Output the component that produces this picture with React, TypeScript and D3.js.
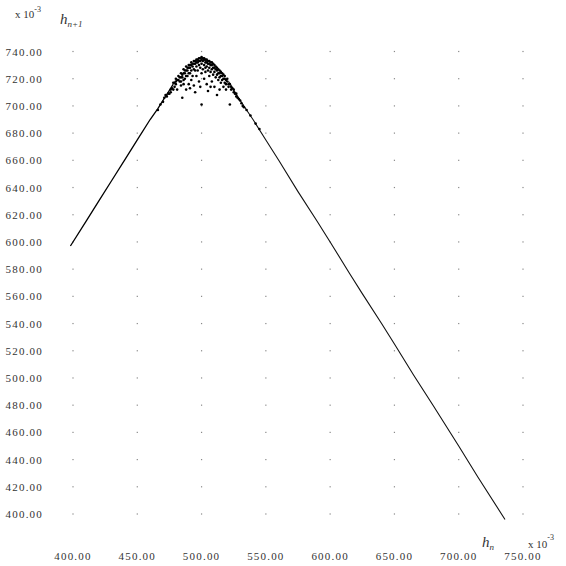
import React from 'react';
import * as d3 from 'd3';

// values are in units of 10^-3
const xTicks = [400, 450, 500, 550, 600, 650, 700, 750];
const yTicks = [400, 420, 440, 460, 480, 500, 520, 540, 560, 580, 600, 620, 640, 660, 680, 700, 720, 740];

// h_n -> h_{n+1}, left rising branch
const leftBranch: [number, number][] = [
  [398, 597], [410, 615], [420, 630], [430, 645], [440, 660], [450, 675],
  [460, 690], [466, 698], [470, 704], [474, 710], [478, 716],
];

// falling branch
const rightBranch: [number, number][] = [
  [521, 718], [528, 707], [535, 697], [540, 690], [550, 675], [560, 660],
  [575, 637], [590, 615], [600, 600], [615, 577], [625, 562], [640, 540],
  [650, 525], [665, 502], [680, 480], [700, 450], [715, 427], [736, 396],
];

// scatter near the maximum
const peakCloud: [number, number][] = [
  [478, 717], [480, 720], [482, 722], [484, 724], [486, 727], [488, 729], [490, 730],
  [492, 732], [494, 733], [496, 734], [498, 735], [500, 736], [502, 735], [504, 734],
  [506, 733], [508, 732], [510, 730], [512, 728], [514, 726], [516, 724], [518, 722], [520, 720],
  [476, 710], [477, 713], [479, 714], [480, 716], [481, 712], [483, 718], [484, 715],
  [485, 721], [486, 719], [487, 724], [488, 722], [489, 726], [490, 724], [491, 728],
  [492, 726], [493, 729], [494, 727], [495, 731], [496, 729], [497, 732], [498, 730],
  [499, 733], [500, 731], [501, 733], [502, 730], [503, 732], [504, 729], [505, 731],
  [506, 728], [507, 730], [508, 727], [509, 728], [510, 725], [511, 727], [512, 723],
  [513, 724], [514, 721], [515, 722], [516, 719], [517, 720], [518, 717], [519, 716],
  [521, 714], [523, 712], [525, 710], [527, 707],
  [475, 709], [476, 712], [478, 712], [479, 717], [480, 718], [481, 719], [482, 719],
  [483, 721], [484, 721], [485, 723], [486, 724], [487, 726], [488, 726], [489, 728],
  [490, 728], [491, 730], [492, 730], [493, 731], [494, 731], [495, 733], [496, 732],
  [497, 734], [498, 733], [499, 735], [500, 734], [501, 735], [502, 734], [503, 734],
  [504, 732], [505, 733], [506, 731], [507, 732], [508, 730], [509, 731], [510, 728],
  [511, 729], [512, 726], [513, 727], [514, 724], [515, 725], [516, 722], [517, 723],
  [518, 720], [519, 719], [520, 718], [521, 716], [522, 716], [523, 714], [524, 713],
  [525, 712], [526, 709], [527, 709], [529, 705], [530, 704], [531, 702],
  [484, 718], [487, 720], [489, 722], [491, 724], [493, 722], [495, 726], [499, 728],
  [501, 727], [503, 728], [505, 726], [507, 725], [509, 723], [511, 721], [513, 719],
  [515, 717], [517, 714], [519, 712], [491, 713], [499, 714], [507, 714], [486, 716], [514, 712],
  [488, 712], [490, 716], [492, 719], [494, 715], [496, 722], [498, 718], [500, 724],
  [502, 720], [504, 716], [506, 722], [508, 718], [510, 714], [495, 710], [505, 711],
  [500, 701], [522, 701], [485, 706], [512, 708], [497, 726], [503, 725],
  [470, 703], [472, 708], [474, 709], [466, 697], [468, 701], [471, 706], [473, 707],
  [528, 706], [532, 700], [535, 697], [538, 693], [542, 687], [545, 683], [533, 699],
];

const W = 566;
const H = 566;

const x = d3.scaleLinear().domain([400, 750]).range([73, 523]);
const y = d3.scaleLinear().domain([400, 740]).range([514, 51.5]);

const fmt = d3.format('.2f');

const line = d3
  .line<[number, number]>()
  .x(d => x(d[0]))
  .y(d => y(d[1]));

const labelStyle: React.CSSProperties = {
  fontFamily: '"Liberation Serif", "DejaVu Serif", serif',
  fontSize: 11,
  letterSpacing: 1.2,
  fill: '#333',
};

export default function App() {
  return (
    <svg width={W} height={H} style={{ position: 'absolute', left: 0, top: 0, background: '#fff' }}>
      {/* grid dots */}
      <g fill="#888">
        {xTicks.map(tx =>
          yTicks.map(ty => (
            <rect key={`${tx}-${ty}`} x={x(tx) - 0.6} y={y(ty) - 0.6} width={1.2} height={1.2} />
          ))
        )}
      </g>

      {/* y tick labels */}
      <g style={labelStyle} textAnchor="end">
        {yTicks.map(t => (
          <text key={t} x={43} y={y(t) + 4}>
            {fmt(t)}
          </text>
        ))}
      </g>

      {/* x tick labels */}
      <g style={labelStyle} textAnchor="middle">
        {xTicks.map(t => (
          <text key={t} x={x(t)} y={560}>
            {fmt(t)}
          </text>
        ))}
      </g>

      {/* axis titles */}
      <g style={{ ...labelStyle, letterSpacing: 0 }}>
        <text x={15} y={18}>
          x 10<tspan dy={-6} fontSize={8}>-3</tspan>
        </text>
        <text x={60} y={24} fontStyle="italic" fontSize={15}>
          h<tspan dy={3} fontSize={9}>n+1</tspan>
        </text>
        <text x={482} y={547} fontStyle="italic" fontSize={15}>
          h<tspan dy={3} fontSize={9}>n</tspan>
        </text>
        <text x={528} y={548}>
          x 10<tspan dy={-8} fontSize={8}>-3</tspan>
        </text>
      </g>

      {/* branches */}
      <path d={line(leftBranch) ?? ''} fill="none" stroke="#000" strokeWidth={1.3} />
      <path d={line(rightBranch) ?? ''} fill="none" stroke="#111" strokeWidth={1.1} />

      {/* points near the peak */}
      <g fill="#000">
        {peakCloud.map((d, i) => (
          <circle key={i} cx={x(d[0])} cy={y(d[1])} r={1.3} />
        ))}
      </g>
    </svg>
  );
}
